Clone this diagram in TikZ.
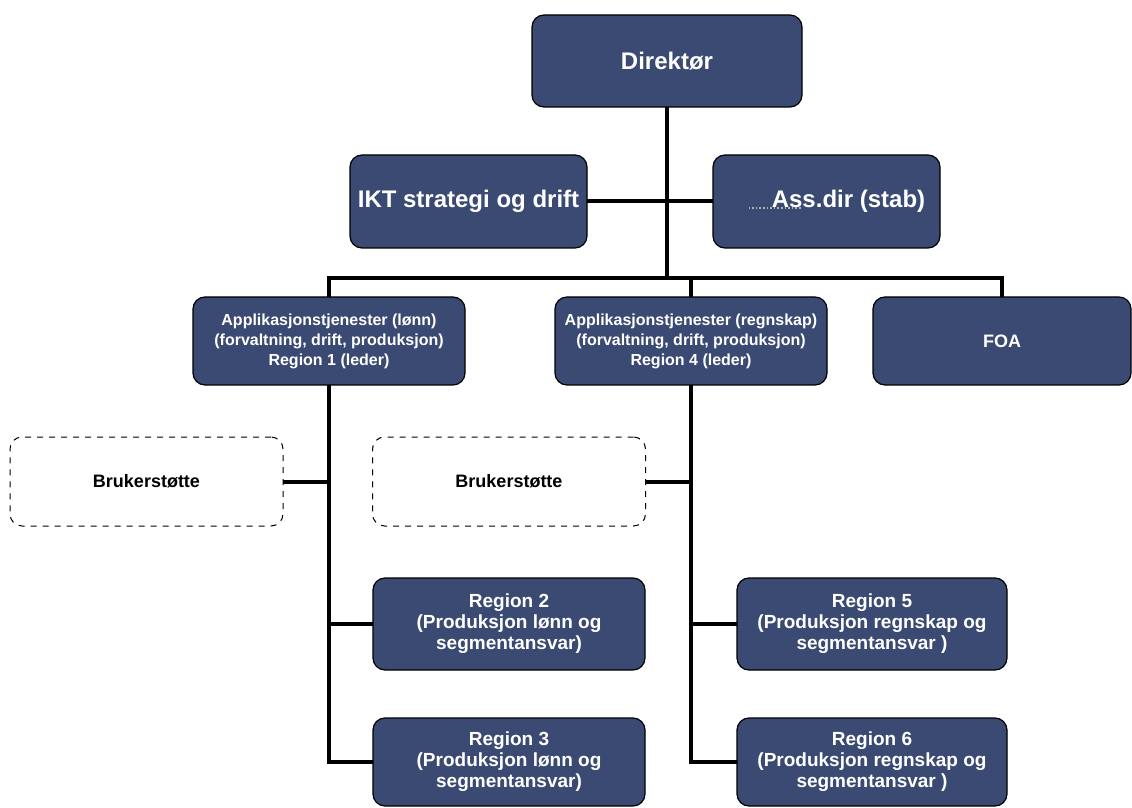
\documentclass[tikz,border=0pt]{standalone}
\usepackage{fontspec}
\setmainfont{Liberation Sans}
\usepackage{tikz}
\definecolor{boxblue}{RGB}{59,74,114}

\begin{document}
\begin{tikzpicture}[x=0.5pt, y=-0.5pt,
  unit/.style={draw=black, line width=0.6pt, fill=boxblue, rounded corners=6pt,
    text=white, align=center, inner sep=2pt, outer sep=0pt},
  support/.style={draw=black, dashed, line width=0.5pt, rounded corners=6pt,
    font=\bfseries\fontsize{9}{11}\selectfont, minimum width=136.5pt,
    minimum height=44.5pt, outer sep=0pt},
  big/.style={font=\bfseries\fontsize{12}{14}\selectfont},
  small/.style={font=\bfseries\fontsize{8}{10}\selectfont},
  region/.style={font=\bfseries\fontsize{9.5}{10.5}\selectfont},
  link/.style={line width=2pt}]
\useasboundingbox (0,0) rectangle (1132,808);

% Top level
\node[unit, big, minimum width=135pt, minimum height=46pt] (dir) at (667,61) {Direktør};

% Staff
\node[unit, big, minimum width=118.5pt, minimum height=46.5pt] (ikt) at (468.5,201.5) {IKT strategi og drift};
\node[unit, big, minimum width=113.5pt, minimum height=46.5pt] (ass) at (826.5,201.5) {\hspace*{22pt}Ass.dir (stab)};
\draw[gray!60, densely dotted, line width=0.8pt] ([shift={(-78,6.5)}]ass.center) -- ([shift={(-26,6.5)}]ass.center);

% Departments
\node[unit, small, minimum width=136pt, minimum height=44pt] (lonn) at (329,341) {Applikasjonstjenester (lønn)\\(forvaltning, drift, produksjon)\\Region 1 (leder)};
\node[unit, small, minimum width=136pt, minimum height=44pt] (regn) at (691,341) {Applikasjonstjenester (regnskap)\\(forvaltning, drift, produksjon)\\Region 4 (leder)};
\node[unit, font=\bfseries\fontsize{9}{11}\selectfont, minimum width=129pt, minimum height=44pt] (foa) at (1002,341) {FOA};

% Support
\node[support] (bru1) at (146.5,481.5) {Brukerstøtte};
\node[support] (bru2) at (509,481.5) {Brukerstøtte};

% Regions
\node[unit, region, minimum width=136pt, minimum height=46pt] (r2) at (509,624) {Region 2\\(Produksjon lønn og\\segmentansvar)};
\node[unit, region, minimum width=136pt, minimum height=44pt] (r3) at (509,762) {Region 3\\(Produksjon lønn og\\segmentansvar)};
\node[unit, region, minimum width=135pt, minimum height=46pt] (r5) at (872,624) {Region 5\\(Produksjon regnskap og\\segmentansvar )};
\node[unit, region, minimum width=135pt, minimum height=44pt] (r6) at (872,762) {Region 6\\(Produksjon regnskap og\\segmentansvar )};

% Lines
\coordinate (bus) at (667,278);
\draw[link] (dir.south) -- (bus);
\draw[link] (ikt.east) -- (ass.west);
\draw[link] (lonn.north) |- (bus) -| (foa.north);
\draw[link] (regn.north) -- (regn.north |- bus);

\draw[link] (lonn.south) |- (r3.west);
\draw[link] (bru1.east) -- (bru1.east -| lonn.south);
\draw[link] (r2.west) -- (r2.west -| lonn.south);

\draw[link] (regn.south) |- (r6.west);
\draw[link] (bru2.east) -- (bru2.east -| regn.south);
\draw[link] (r5.west) -- (r5.west -| regn.south);

\end{tikzpicture}
\end{document}
